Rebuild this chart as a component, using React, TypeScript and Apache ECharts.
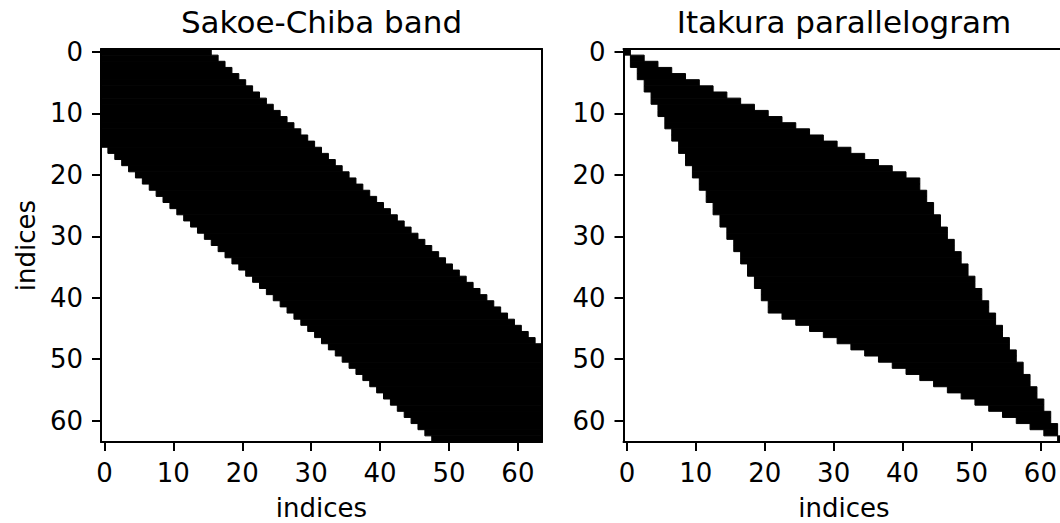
import React, { useEffect, useRef } from "react";
import * as echarts from "echarts";

// index categories of the 64x64 masks
const indices: string[] = Array.from({ length: 64 }, (_, i) => String(i));
const tickValues = [0, 10, 20, 30, 40, 50, 60];
const titles = ["Sakoe-Chiba band", "Itakura parallelogram"];
const axisName = "indices";

// Sakoe-Chiba band: first / last black column of each row (rows 0..63)
const sakoeStart = [0,0,0,0,0,0,0,0,0,0,0,0,0,0,0,0,1,2,3,4,5,6,7,8,9,10,11,12,13,14,15,16,17,18,19,20,21,22,23,24,25,26,27,28,29,30,31,32,33,34,35,36,37,38,39,40,41,42,43,44,45,46,47,48];
const sakoeEnd = [15,16,17,18,19,20,21,22,23,24,25,26,27,28,29,30,31,32,33,34,35,36,37,38,39,40,41,42,43,44,45,46,47,48,49,50,51,52,53,54,55,56,57,58,59,60,61,62,63,63,63,63,63,63,63,63,63,63,63,63,63,63,63,63];

// Itakura parallelogram: first / last black column of each row (rows 0..63)
const itakuraStart = [0,1,1,2,2,3,3,4,4,5,5,6,6,7,7,8,8,9,9,10,10,11,11,12,12,13,13,14,14,15,15,16,16,17,17,18,18,19,19,20,20,21,21,23,25,27,29,31,33,35,37,39,41,43,45,47,49,51,53,55,57,59,61,63];
const itakuraEnd = [0,2,4,6,8,10,12,14,16,18,20,22,24,26,28,30,32,34,36,38,40,42,42,43,43,44,44,45,45,46,46,47,47,48,48,49,49,50,50,51,51,52,52,53,53,54,54,55,55,56,56,57,57,58,58,59,59,60,60,61,61,62,62,63];

const fontFamily = '"DejaVu Sans", sans-serif';

export default function App() {
  const ref = useRef<HTMLDivElement>(null);

  useEffect(() => {
    if (!ref.current) return;
    const chart = echarts.init(ref.current, undefined, { renderer: "svg" });

    const showTick = (idx: number) => tickValues.indexOf(idx) >= 0;
    const grids = [
      { left: 101, top: 49, width: 441, height: 393, outerBoundsMode: "none", containLabel: false },
      { left: 623.5, top: 49, width: 441, height: 393, outerBoundsMode: "none", containLabel: false },
    ];
    const lineStyle = { color: "#000", width: 2 };
    const xAxes: any[] = [];
    const yAxes: any[] = [];
    for (let p = 0; p < 2; p++) {
      xAxes.push({
        type: "category", gridIndex: p, data: indices, position: "bottom", boundaryGap: true, z: 10,
        axisLine: { show: true, lineStyle },
        axisTick: { show: true, alignWithLabel: true, interval: showTick, length: 9, lineStyle },
        axisLabel: { interval: showTick, fontSize: 26, fontFamily, color: "#000", margin: 18 },
        splitLine: { show: false },
        name: axisName, nameLocation: "middle", nameGap: 53,
        nameTextStyle: { fontSize: 26, lineHeight: 26, fontFamily, color: "#000" },
      });
      xAxes.push({
        type: "category", gridIndex: p, data: indices, position: "top", boundaryGap: true, z: 10,
        axisLine: { show: true, lineStyle },
        axisTick: { show: false }, axisLabel: { show: false }, splitLine: { show: false },
        name: titles[p], nameLocation: "middle", nameGap: 12,
        nameTextStyle: { fontSize: 31, fontFamily, color: "#000" },
      });
      yAxes.push({
        type: "category", gridIndex: p, data: indices, position: "left", inverse: true, boundaryGap: true, z: 10,
        axisLine: { show: true, lineStyle },
        axisTick: { show: true, alignWithLabel: true, interval: showTick, length: 9, lineStyle },
        axisLabel: { interval: showTick, fontSize: 26, fontFamily, color: "#000", margin: 18 },
        splitLine: { show: false },
        name: p === 0 ? axisName : "", nameLocation: "middle", nameGap: 62, nameRotate: 90,
        nameTextStyle: { fontSize: 26, fontFamily, color: "#000" },
      });
      yAxes.push({
        type: "category", gridIndex: p, data: indices, position: "right", inverse: true, boundaryGap: true, z: 10,
        axisLine: { show: true, lineStyle },
        axisTick: { show: false }, axisLabel: { show: false }, splitLine: { show: false },
      });
    }

    const rowsOf = (start: number[], end: number[]) => start.map((s, i) => [i, s, end[i]]);

    const renderItem = (params: any, api: any) => {
      const row = api.value(0);
      const s = api.value(1);
      const e = api.value(2);
      const p0 = api.coord([s, row]);
      const p1 = api.coord([e, row]);
      const size = api.size([1, 1]);
      return {
        type: "rect",
        shape: {
          x: p0[0] - size[0] / 2,
          y: p0[1] - size[1] / 2,
          width: p1[0] - p0[0] + size[0],
          height: size[1],
        },
        style: { fill: "#000", stroke: "#000", lineWidth: 1 },
      };
    };

    chart.setOption({
      animation: false,
      backgroundColor: "#fff",
      grid: grids,
      xAxis: xAxes,
      yAxis: yAxes,
      series: [
        {
          type: "custom", xAxisIndex: 0, yAxisIndex: 0, renderItem,
          encode: { x: [1, 2], y: 0 }, data: rowsOf(sakoeStart, sakoeEnd), z: 2,
        },
        {
          type: "custom", xAxisIndex: 2, yAxisIndex: 2, renderItem,
          encode: { x: [1, 2], y: 0 }, data: rowsOf(itakuraStart, itakuraEnd), z: 2,
        },
      ],
    });

    return () => chart.dispose();
  }, []);

  return (
    <div
      ref={ref}
      style={{ position: "absolute", left: 0, top: 0, width: 1060, height: 523 }}
    />
  );
}
